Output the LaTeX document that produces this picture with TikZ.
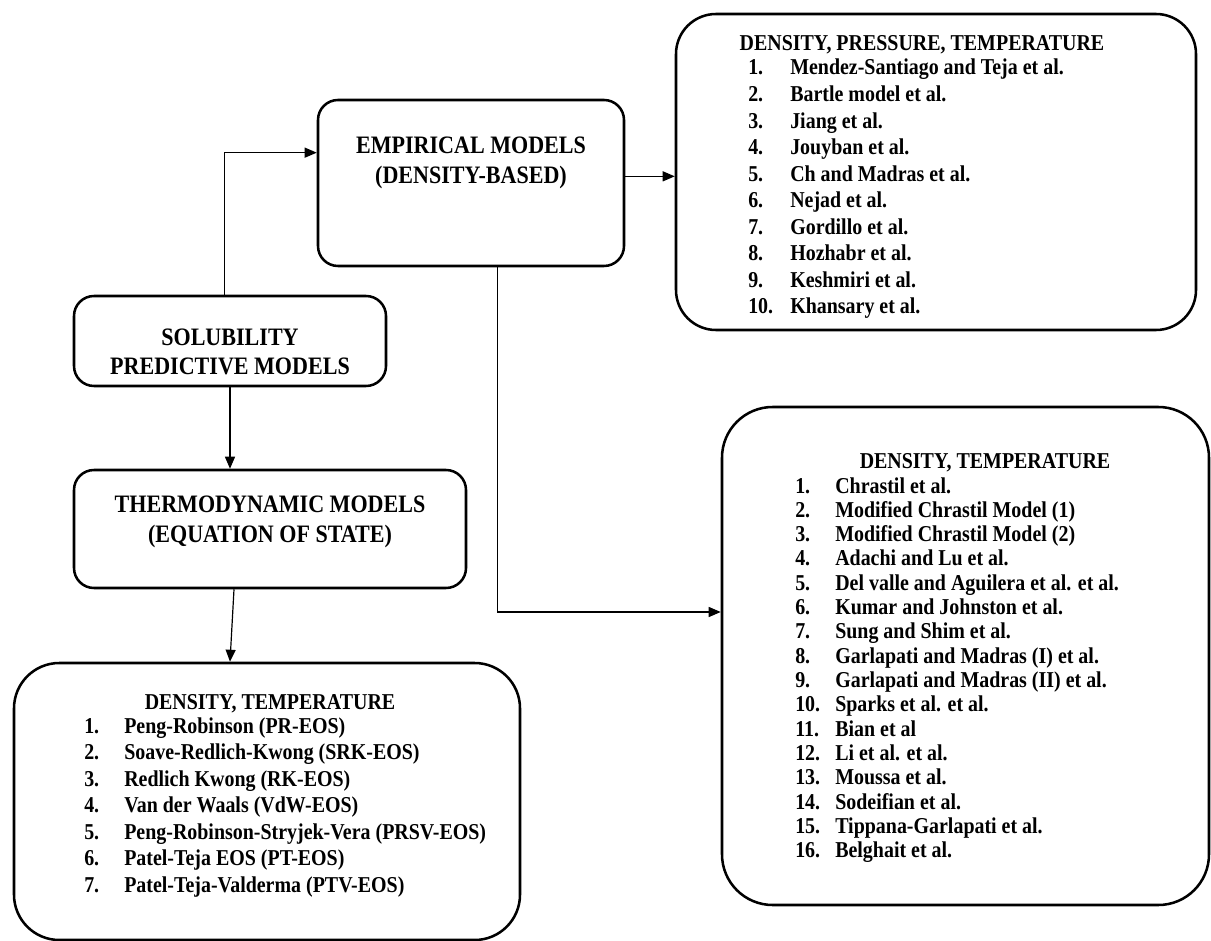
\documentclass[tikz,border=0pt]{standalone}
\usepackage{fontspec}
\setmainfont{Liberation Serif}[FakeStretch=0.88]
\usetikzlibrary{arrows.meta,fit,calc}
\begin{document}
\begin{tikzpicture}[x=0.75pt,y=-0.75pt,
  box/.style={draw, line width=1.9pt, rounded corners=#1, inner sep=0pt},
  arr/.style={line width=0.9pt, -{Triangle[length=9pt,width=7.5pt]}},
  ttl/.style={font=\bfseries\fontsize{18.8}{#1}\selectfont, align=center, inner sep=0pt},
  hdr/.style={font=\bfseries\fontsize{17}{20}\selectfont, inner sep=0pt, anchor=base},
  lst/.style={font=\bfseries\fontsize{17}{#1}\selectfont, inner sep=0pt, anchor=base west}]
\useasboundingbox (0,0) rectangle (1211,941);
% boxes
\node[box=30pt, fit={(676,14) (1196,330)}] (tr) {};
\node[box=15pt, fit={(318,100) (624,266)}] (emp) {};
\node[box=15pt, fit={(74,296) (386,386)}] (sol) {};
\node[box=15pt, fit={(74,470) (466,588)}] (th) {};
\node[box=34pt, fit={(14,663) (520,940)}] (bl) {};
\node[box=38pt, fit={(722,407) (1209,905)}] (br) {};
% titles
\node[ttl=22pt] (empt) at (471,163) {EMPIRICAL MODELS\\(DENSITY-BASED)};
\node[ttl=22pt] (solt) at (230,352) {SOLUBILITY\\PREDICTIVE MODELS};
\node[ttl=22pt] (tht) at (270,522) {THERMODYNAMIC MODELS\\(EQUATION OF STATE)};
% lists
\node[hdr] (trh) at (922,51) {DENSITY, PRESSURE, TEMPERATURE};
\node[lst=19.9pt] (trl) at (748,75) {\begin{tabular}[t]{@{}p{31.5pt}@{}l@{}}
1. & Mendez-Santiago and Teja et al.\\
2. & Bartle model et al.\\
3. & Jiang et al.\\
4. & Jouyban et al.\\
5. & Ch and Madras et al.\\
6. & Nejad et al.\\
7. & Gordillo et al.\\
8. & Hozhabr et al.\\
9. & Keshmiri et al.\\
10. & Khansary et al.
\end{tabular}};
\node[hdr] (blh) at (270,709) {DENSITY, TEMPERATURE};
\node[lst=19.9pt] (bll) at (84,733) {\begin{tabular}[t]{@{}p{30pt}@{}l@{}}
1. & Peng-Robinson (PR-EOS)\\
2. & Soave-Redlich-Kwong (SRK-EOS)\\
3. & Redlich Kwong (RK-EOS)\\
4. & Van der Waals (VdW-EOS)\\
5. & Peng-Robinson-Stryjek-Vera (PRSV-EOS)\\
6. & Patel-Teja EOS (PT-EOS)\\
7. & Patel-Teja-Valderma (PTV-EOS)
\end{tabular}};
\node[hdr] (brh) at (985,469) {DENSITY, TEMPERATURE};
\node[lst=18.25pt] (brl) at (795,493) {\begin{tabular}[t]{@{}p{30pt}@{}l@{}}
1. & Chrastil et al.\\
2. & Modified Chrastil Model (1)\\
3. & Modified Chrastil Model (2)\\
4. & Adachi and Lu et al.\\
5. & Del valle and Aguilera et al. et al.\\
6. & Kumar and Johnston et al.\\
7. & Sung and Shim et al.\\
8. & Garlapati and Madras (I) et al.\\
9. & Garlapati and Madras (II) et al.\\
10. & Sparks et al. et al.\\
11. & Bian et al\\
12. & Li et al. et al.\\
13. & Moussa et al.\\
14. & Sodeifian et al.\\
15. & Tippana-Garlapati et al.\\
16. & Belghait et al.
\end{tabular}};
% connectors
\draw[arr] ([xshift=-4pt]sol.north) |- ($(emp.north west)!0.32!(emp.south west)$);
\draw[arr] ([yshift=5pt]emp.east) -- ([yshift=5pt]emp.east -| tr.west);
\draw[arr] ([xshift=20pt]emp.south) |- ([yshift=33pt]br.west);
\draw[arr] (sol.south) -- (sol.south |- th.north);
\draw[arr] ([xshift=3pt]sol.south |- th.south) -- (sol.south |- bl.north);
\end{tikzpicture}
\end{document}
